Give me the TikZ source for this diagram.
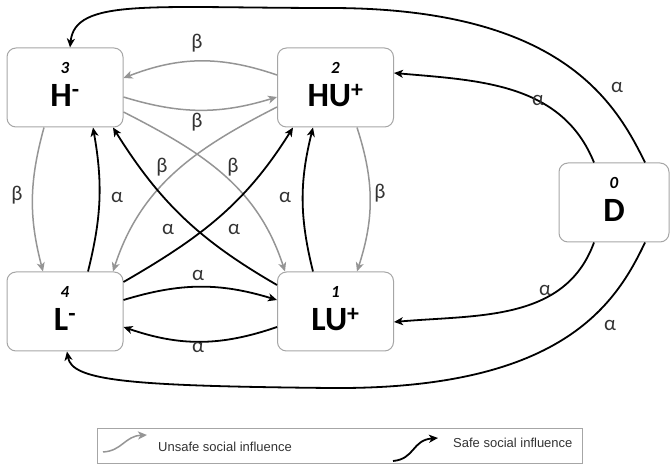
\documentclass[tikz,border=0pt]{standalone}
\usepackage{fontspec}
\setmainfont{Carlito}
\newfontfamily\legfont{Liberation Sans}
\usetikzlibrary{arrows.meta}
\definecolor{boxgray}{HTML}{A6A6A6}
\definecolor{unsafe}{HTML}{959595}
\definecolor{lbl}{HTML}{333333}
\tikzset{
  statebox/.style={draw=boxgray, line width=1pt, rounded corners=9pt, fill=white, minimum width=116pt, minimum height=79pt, inner sep=0pt},
  numtxt/.style={font=\fontsize{17}{17}\selectfont\bfseries\itshape, inner sep=0pt},
  bigtxt/.style={font=\fontsize{34}{34}\selectfont\bfseries, inner sep=0pt},
  unsafearrow/.style={draw=unsafe, line width=1.5pt, -{Stealth[length=9pt,width=8pt,inset=2.5pt]}},
  safearrow/.style={draw=black, line width=1.8pt, -{Stealth[length=9pt,width=8pt,inset=2.5pt]}},
  rate/.style={font=\fontsize{21}{21}\selectfont, text=lbl, inner sep=0pt},
  legtxt/.style={font=\legfont\fontsize{13}{13}\selectfont, text=lbl, inner sep=0pt, anchor=west}
}
\begin{document}
\begin{tikzpicture}[x=1pt,y=1pt]
\useasboundingbox (0,0) rectangle (670,466);
% boxes
\node[statebox] (H)  at (65,378.5) {};
\node[statebox] (HU) at (335.5,378.5) {};
\node[statebox] (L)  at (65,154.5) {};
\node[statebox] (LU) at (335.5,154.5) {};
\node[statebox, minimum width=110pt] (D) at (614,263.5) {};
% texts
\node[numtxt] (Hn)  at ([yshift=20pt]H.center) {3};
\node[bigtxt] (Ht)  at ([yshift=-8pt]H.center) {H\textsuperscript{-}};
\node[numtxt] (HUn) at ([yshift=20pt]HU.center) {2};
\node[bigtxt] (HUt) at ([yshift=-8pt]HU.center) {HU\textsuperscript{+}};
\node[numtxt] (Ln)  at ([yshift=20pt]L.center) {4};
\node[bigtxt] (Lt)  at ([yshift=-8pt]L.center) {L\textsuperscript{-}};
\node[numtxt] (LUn) at ([yshift=20pt]LU.center) {1};
\node[bigtxt] (LUt) at ([yshift=-8pt]LU.center) {LU\textsuperscript{+}};
\node[numtxt] (Dn)  at ([yshift=20pt]D.center) {0};
\node[bigtxt] (Dt)  at ([yshift=-8pt]D.center) {D};
% unsafe (beta) arrows
\draw[unsafearrow] ([yshift=12.5pt]HU.west) to[bend right=20] ([yshift=9.5pt]H.east);
\draw[unsafearrow] ([yshift=-9.5pt]H.east) to[bend right=17] ([yshift=-9.5pt]HU.west);
\draw[unsafearrow] ([xshift=-21pt]H.south) to[bend right=15] ([xshift=-22pt]L.north);
\draw[unsafearrow] ([xshift=21.5pt]HU.south) to[bend left=18] ([xshift=21.5pt]LU.north);
\draw[unsafearrow] ([yshift=-24.5pt]H.east) to[out=-27,in=108] ([xshift=-50.5pt]LU.north);
\draw[unsafearrow] ([yshift=-19.5pt]HU.west) to[out=207,in=72] ([xshift=48pt]L.north);
% safe (alpha) arrows
\draw[safearrow] ([xshift=23pt]L.north) to[bend right=12] ([xshift=28pt]H.south);
\draw[safearrow] ([xshift=-22.5pt]LU.north) to[bend left=14] ([xshift=-22.5pt]HU.south);
\draw[safearrow] ([yshift=26.5pt]LU.west) to[out=150,in=-58] ([xshift=48pt]H.south);
\draw[safearrow] ([yshift=29.5pt]L.east) to[out=30,in=238] ([xshift=-42.5pt]HU.south);
\draw[safearrow] ([yshift=11.5pt]L.east) to[bend left=17] ([yshift=11.5pt]LU.west);
\draw[safearrow] ([yshift=-15.5pt]LU.west) to[bend left=19] ([yshift=-15.5pt]L.east);
% from D
\draw[safearrow] ([xshift=31pt]D.north) .. controls (615,365) and (560,458) .. (330,458)
   .. controls (150,458) and (75,468) .. ([xshift=5pt]H.north);
\draw[safearrow] ([xshift=-20pt]D.north) to[out=112,in=-5] ([yshift=14.5pt]HU.east);
\draw[safearrow] ([xshift=-20pt]D.south) to[out=-110,in=5] ([yshift=-10.5pt]LU.east);
\draw[safearrow] ([xshift=31pt]D.south) .. controls (615,160) and (560,76) .. (330,78)
   .. controls (130,80) and (72,85) .. ([xshift=2pt]L.south);
% labels
\node[rate] (b1) at (197,423) {β};
\node[rate] (b2) at (197,344) {β};
\node[rate] (b3) at (17,271) {β};
\node[rate] (b4) at (380,273) {β};
\node[rate] (b5) at (162,299) {β};
\node[rate] (b6) at (233,299) {β};
\node[rate] (a1) at (117,269) {α};
\node[rate] (a2) at (285,269) {α};
\node[rate] (a3) at (168,237) {α};
\node[rate] (a4) at (234,237) {α};
\node[rate] (a5) at (198,191) {α};
\node[rate] (a6) at (198,119) {α};
\node[rate] (a7) at (617,379) {α};
\node[rate] (a8) at (538,366) {α};
\node[rate] (a9) at (545,176) {α};
\node[rate] (a10) at (610,141) {α};
% legend
\node[draw=boxgray, line width=1pt, minimum width=485pt, minimum height=35pt, inner sep=0pt] (leg) at (339.5,19.5) {};
\coordinate (g1) at (103,14);
\coordinate (g2) at (147,31);
\draw[unsafearrow] (g1) .. controls (122,15) and (125,30) .. (g2);
\node[legtxt] (lu) at (158,19) {Unsafe social influence};
\coordinate (k1) at (393,5);
\coordinate (k2) at (438,28);
\draw[safearrow] (k1) .. controls (415,7) and (412,26) .. (k2);
\node[legtxt] (ls) at (453,23) {Safe social influence};
\end{tikzpicture}
\end{document}
